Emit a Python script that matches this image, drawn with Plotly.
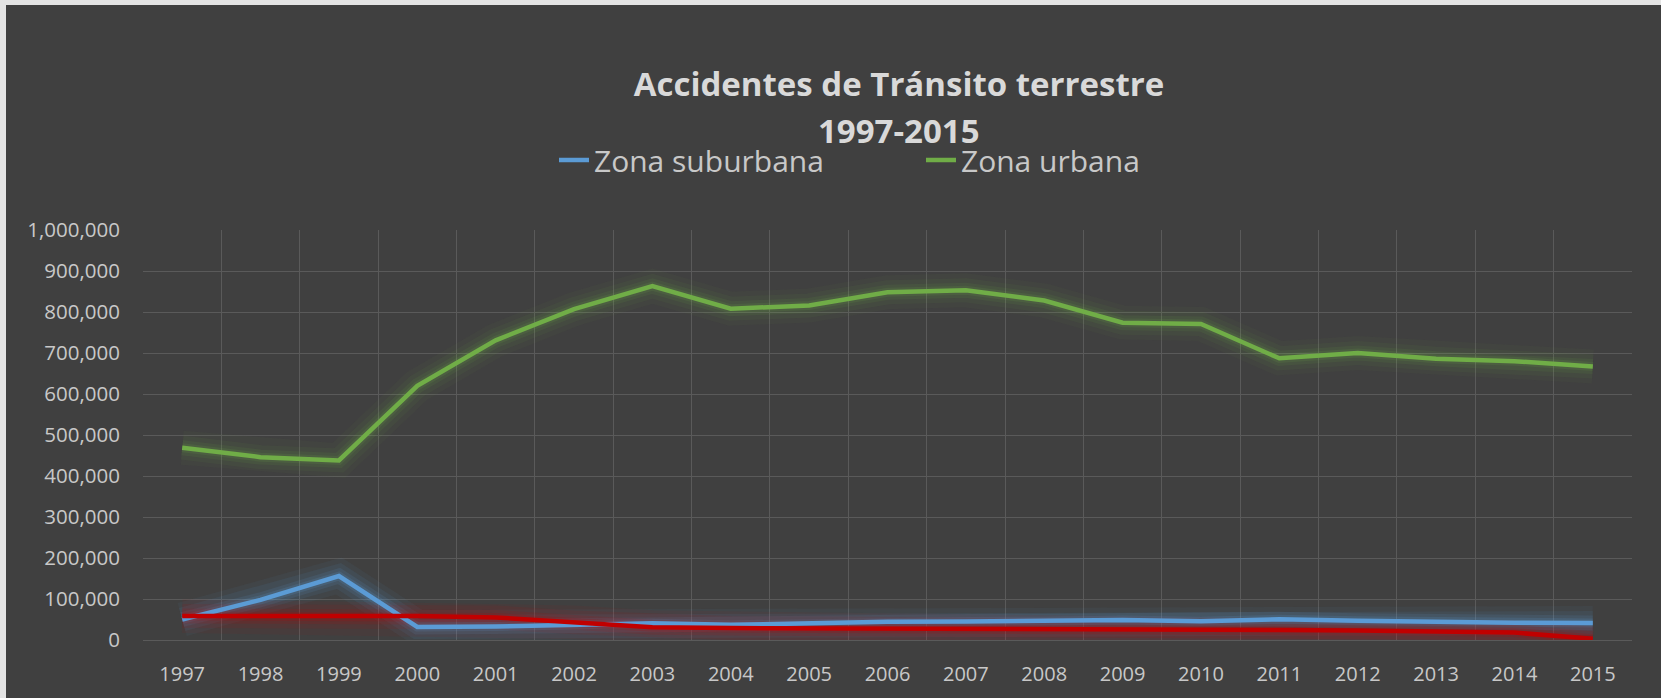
import plotly.graph_objects as go

years = [str(y) for y in range(1997, 2016)]
zona_suburbana = [50000, 98000, 156000, 32000, 33000, 36000, 41000, 37000, 41000, 44500,
                  45000, 46000, 49000, 46000, 50500, 47000, 44000, 42000, 41500]
zona_urbana = [469000, 446000, 438000, 620000, 731000, 807000, 863000, 808000, 816000, 848000,
               853000, 828000, 774000, 771000, 687000, 700000, 686000, 680000, 667000]
serie_3 = [58500, 58500, 58500, 58500, 55000, 43000, 31000, 29000, 28500, 28000,
           28000, 28000, 27500, 27000, 24500, 23000, 20500, 18000, 3000]

BLUE = (91, 155, 213)
GREEN = (112, 173, 71)
RED = (192, 0, 0)
FONT = "Open Sans"

def rgba(c, a):
    return f"rgba({c[0]},{c[1]},{c[2]},{a})"

fig = go.Figure()

series = [("Zona suburbana", zona_suburbana, BLUE, True, 0.09),
          ("Zona urbana", zona_urbana, GREEN, True, 0.07),
          ("Serie 3", serie_3, RED, False, 0.09)]

# soft glow underneath each line
for name, vals, col, _, g in series:
    for w, k in [(34, 0.6), (24, 0.9), (15, 1.3), (9, 1.8)]:
        fig.add_trace(go.Scatter(x=years, y=vals, mode="lines", showlegend=False,
                                 hoverinfo="skip",
                                 line=dict(color=rgba(col, round(g * k, 3)), width=w)))

for name, vals, col, leg, _ in series:
    fig.add_trace(go.Scatter(x=years, y=vals, mode="lines", name=name, showlegend=leg,
                             line=dict(color=rgba(col, 1), width=4.5)))

W, H = 1661, 698
L, R, T, B = 143, 1632, 230, 640
pw, ph = R - L, B - T

def px_x(x):
    return (x - L) / pw

def px_y(y):
    return (B - y) / ph

fig.update_layout(
    width=W, height=H,
    paper_bgcolor="#404040", plot_bgcolor="#404040",
    margin=dict(l=L, r=W - R, t=T, b=H - B, pad=0),
    font=dict(family=FONT, color="#c8c8c8"),
    title=dict(text="<b>Accidentes de Tránsito terrestre</b>",
               font=dict(family=FONT, size=33, color="#d9d9d9"),
               x=899 / W, xanchor="center", xref="container",
               y=1 - 84 / H, yanchor="middle", yref="container"),
    legend=dict(orientation="h", x=px_x(554), xanchor="left",
                y=px_y(160), yanchor="middle",
                font=dict(family=FONT, size=30, color="#c8c8c8"),
                bgcolor="rgba(0,0,0,0)", entrywidth=322, entrywidthmode="pixels"),
    showlegend=True,
)

fig.add_annotation(text="<b>1997-2015</b>", xref="paper", yref="paper",
                   x=px_x(899), y=px_y(130), xanchor="center", yanchor="middle",
                   showarrow=False, font=dict(family=FONT, size=33, color="#d9d9d9"))

fig.update_xaxes(type="category", tickson="boundaries", showgrid=True,
                 gridcolor="#5a5a5a", gridwidth=1.3, ticks="", showline=False,
                 zeroline=False, tickfont=dict(family=FONT, size=20, color="#c8c8c8"),
                 ticklabelstandoff=20, range=[-0.5, 18.5])
fig.update_yaxes(range=[0, 1000000], dtick=100000, tickformat=",d", showgrid=True,
                 gridcolor="#5a5a5a", gridwidth=1.3, zeroline=True, zerolinecolor="#5a5a5a",
                 zerolinewidth=1.3, ticks="", showline=False,
                 tickfont=dict(family=FONT, size=20.5, color="#c8c8c8"),
                 ticklabelstandoff=22)

# light frame strips on top and left edges of the chart picture
fig.add_shape(type="rect", xref="paper", yref="paper", x0=px_x(-5), x1=px_x(W + 5),
              y0=px_y(5), y1=px_y(-5), fillcolor="#e4e4e4", line_width=0, layer="above")
fig.add_shape(type="rect", xref="paper", yref="paper", x0=px_x(-5), x1=px_x(6),
              y0=px_y(H + 5), y1=px_y(-5), fillcolor="#e4e4e4", line_width=0, layer="above")

fig.write_html(
    "out.html",
    config={"displayModeBar": False},
    post_script="document.body.style.margin='0';document.body.style.overflow='hidden';",
)
